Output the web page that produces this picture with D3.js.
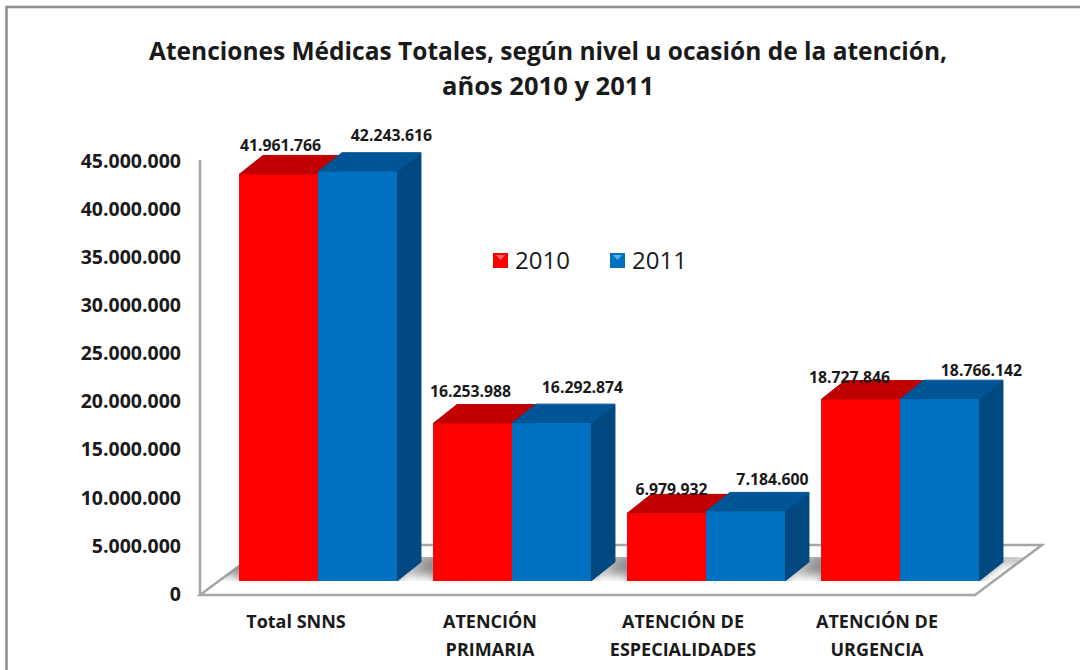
<!DOCTYPE html>
<html>
<head>
<meta charset="utf-8">
<script src="https://cdn.jsdelivr.net/npm/d3@7"></script>
<style>
  html, body { margin: 0; padding: 0; background: #fff; }
  svg { display: block; }
  text { font-family: "Open Sans", sans-serif; fill: #1a1a1a; }
</style>
</head>
<body>
<script>
const categories = [['Total SNNS'], ['ATENCIÓN', 'PRIMARIA'], ['ATENCIÓN DE', 'ESPECIALIDADES'], ['ATENCIÓN DE', 'URGENCIA']];
const seriesNames = ['2010', '2011'];
const values2010 = [41961766, 16253988, 6979932, 18727846];
const values2011 = [42243616, 16292874, 7184600, 18766142];
const yTicks = [0, 5000000, 10000000, 15000000, 20000000, 25000000, 30000000, 35000000, 40000000, 45000000];
const titleLines = ['Atenciones Médicas Totales, según nivel u ocasión de la atención,', 'años 2010 y 2011'];

// the value labels were placed by hand in the original, nudge each one
const labelNudge = {
  '2010': [[2, -23], [-2, -27], [5, -18], [-11, -17]],
  '2011': [[34, -31], [31, -30], [27, -26], [42, -23]]
};

const width = 1080, height = 670;
const depthX = 24, depthY = 19;   // depth of the 3d bars
const base = 581;
const colors = {
  '2010': {front: '#ff0000', top: '#c00000', side: '#a00000'},
  '2011': {front: '#0070c0', top: '#005596', side: '#00487f'}
};

const svg = d3.select('body').append('svg')
  .attr('width', width)
  .attr('height', height);

const defs = svg.append('defs');
defs.append('filter').attr('id', 'soft')
  .append('feGaussianBlur').attr('stdDeviation', 5);
// keeps the shadow on the floor
defs.append('clipPath').attr('id', 'floorClip')
  .append('path').attr('d', 'M219,581L251,557H1026L994,581Z');

// frame, open on the right side
svg.append('path')
  .attr('d', 'M6.5,670V7H1080')
  .attr('fill', 'none')
  .attr('stroke', '#8c8c8c')
  .attr('stroke-width', 2.5);

// title
svg.append('g').selectAll('text')
  .data(titleLines)
  .join('text')
  .attr('x', 548)
  .attr('y', (d, i) => 60 + i * 35)
  .attr('text-anchor', 'middle')
  .attr('font-size', 24.5)
  .attr('font-weight', 700)
  .attr('textLength', (d, i) => i == 0 ? 798 : 212)
  .attr('lengthAdjust', 'spacingAndGlyphs')
  .text(d => d);

let x = d3.scaleBand().domain(d3.range(categories.length)).range([221, 997]).paddingInner(0.186).paddingOuter(0.093);
let xs = d3.scaleBand().domain(seriesNames).range([0, x.bandwidth()]);
let y = d3.scaleLinear().domain([0, 45000000]).range([base, 145]);
// axis labels sit in front of the bars
let yAxisScale = d3.scaleLinear().domain([0, 45000000]).range([594, 161]);

const fmt = d3.formatLocale({decimal: ',', thousands: '.', grouping: [3], currency: ['', '']}).format(',d');

// floor
svg.append('path')
  .attr('d', 'M200,595H975L1042,545H267Z')
  .attr('fill', '#fff')
  .attr('stroke', '#a6a6a6')
  .attr('stroke-width', 2.5);
svg.append('path')
  .attr('d', 'M200,160V595')
  .attr('stroke', '#a6a6a6')
  .attr('stroke-width', 2.5);

// shadow on the floor behind each group
svg.append('g')
  .attr('clip-path', 'url(#floorClip)')
  .selectAll('path')
  .data(d3.range(categories.length))
  .join('path')
  .attr('d', i => {
    let left = x(i), right = x(i) + x.bandwidth();
    return 'M' + right + ',' + base + 'L' + (right + depthX) + ',' + (base - depthY) + 'H' + (right + depthX + 20)
      + 'V' + (base - depthY - 6) + 'H' + (left - 6) + 'L' + (left - 24) + ',' + (base - 6) + 'H' + left + 'V' + base + 'Z';
  })
  .attr('fill', '#8f8f8f')
  .attr('filter', 'url(#soft)');

let groups = svg.append('g').selectAll('g')
  .data(d3.range(categories.length))
  .join('g')
  .attr('transform', i => 'translate(' + x(i) + ',0)');

let bars = groups.selectAll('g')
  .data(i => seriesNames.map((s, k) => ({s: s, i: i, value: k == 0 ? values2010[i] : values2011[i]})))
  .join('g');

const x0 = d => xs(d.s), x1 = d => xs(d.s) + xs.bandwidth();

bars.append('path')
  .attr('fill', d => colors[d.s].side)
  .attr('stroke', d => colors[d.s].side)
  .attr('stroke-linejoin', 'round')
  .attr('d', d => 'M' + x1(d) + ',' + base + 'V' + y(d.value) + 'l' + depthX + ',' + (-depthY) + 'V' + (base - depthY) + 'Z');
bars.append('path')
  .attr('fill', d => colors[d.s].top)
  .attr('stroke', d => colors[d.s].top)
  .attr('stroke-linejoin', 'round')
  .attr('d', d => 'M' + x0(d) + ',' + y(d.value) + 'l' + depthX + ',' + (-depthY) + 'h' + xs.bandwidth() + 'l' + (-depthX) + ',' + depthY + 'Z');
bars.append('rect')
  .attr('x', x0)
  .attr('y', d => y(d.value))
  .attr('width', xs.bandwidth())
  .attr('height', d => base - y(d.value))
  .attr('fill', d => colors[d.s].front);

// value labels, above all the bars
svg.append('g').selectAll('text')
  .data(bars.data())
  .join('text')
  .attr('x', d => x(d.i) + x0(d) + xs.bandwidth() / 2 + labelNudge[d.s][d.i][0])
  .attr('y', d => y(d.value) + labelNudge[d.s][d.i][1])
  .attr('text-anchor', 'middle')
  .attr('font-size', 15.8)
  .attr('font-weight', 700)
  .text(d => fmt(d.value));

// y axis
let yAxis = svg.append('g')
  .attr('transform', 'translate(181,0)')
  .call(d3.axisLeft(yAxisScale).tickValues(yTicks).tickFormat(fmt).tickSize(0).tickPadding(0));
yAxis.select('.domain').remove();
yAxis.selectAll('text')
  .attr('font-size', 19.5)
  .attr('font-weight', 700)
  .style('font-family', '"Open Sans", sans-serif');

// category labels
let catLabels = svg.append('g').selectAll('text')
  .data(categories)
  .join('text')
  .attr('text-anchor', 'middle')
  .attr('font-size', 18)
  .attr('font-weight', 700)
  .attr('transform', (d, i) => 'translate(' + [296, 490, 683, 877][i] + ',0)');
catLabels.selectAll('tspan')
  .data(d => d)
  .join('tspan')
  .attr('x', 0)
  .attr('y', (d, i) => 628 + i * 28)
  .text(d => d);

// legend
let legend = svg.append('g').selectAll('g')
  .data(seriesNames)
  .join('g')
  .attr('transform', (d, i) => 'translate(' + (493 + i * 117) + ',253)');
legend.append('rect')
  .attr('width', 15)
  .attr('height', 15)
  .attr('fill', d => colors[d].front);
legend.append('path')
  .attr('d', 'M3,2H12L7.5,7Z')
  .attr('fill', d => d == '2010' ? '#ff6a6a' : '#4fb3f0');
legend.append('text')
  .attr('x', 22)
  .attr('y', 16)
  .attr('font-size', 24)
  .attr('fill', '#333')
  .text(d => d);
</script>
</body>
</html>
